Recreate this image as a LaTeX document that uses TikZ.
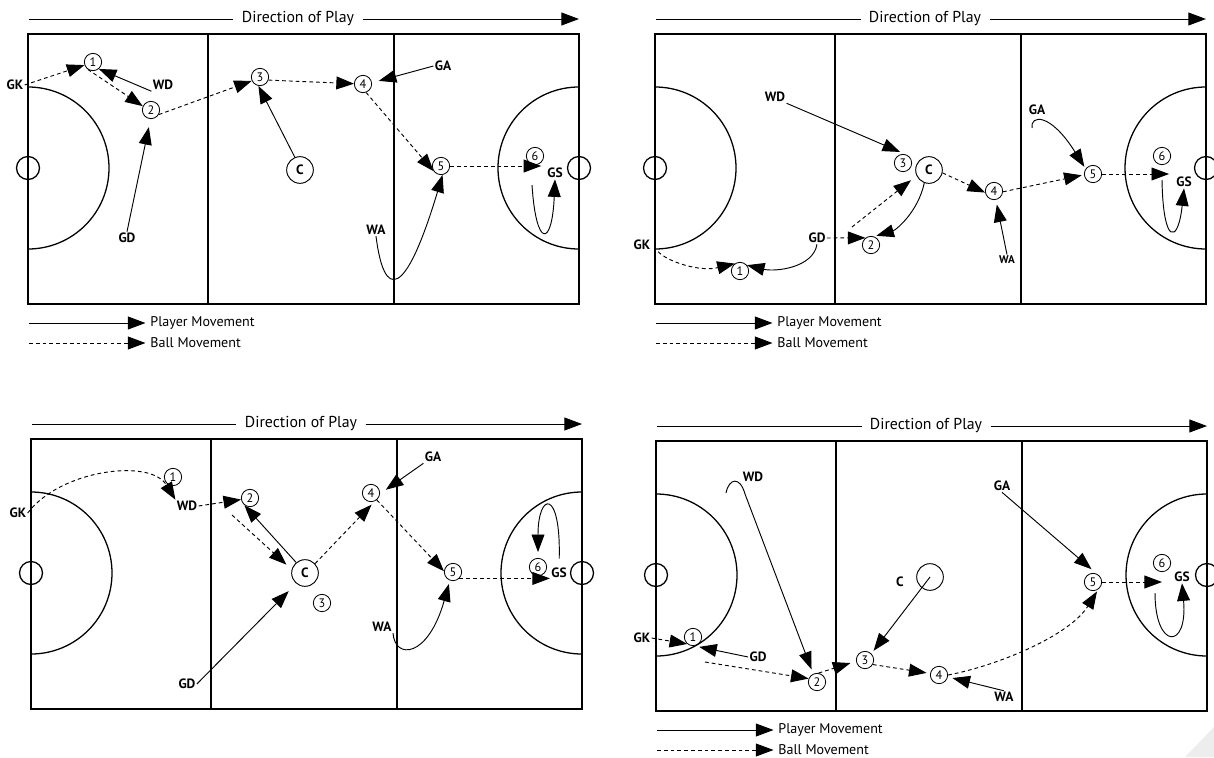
\documentclass[tikz,border=0pt]{standalone}
\usepackage{fontspec}
\setmainfont{PT Sans}
\usetikzlibrary{arrows.meta}

\tikzset{
  feld/.style={line width=1.1pt},
  spieler/.style={line width=0.8pt, -{Triangle[length=15pt,width=11pt]}},
  ball/.style={spieler, dash pattern=on 3.2pt off 2.6pt},
  nummer/.style={circle, draw, line width=0.7pt, inner sep=0pt, minimum size=0.52cm, font=\fontsize{10.5}{11}\selectfont},
  mitte/.style={circle, draw, line width=0.8pt, inner sep=0pt, minimum size=0.8cm, font=\bfseries\fontsize{11.5}{12}\selectfont},
  rolle/.style={inner sep=1pt, font=\bfseries\fontsize{11.5}{12}\selectfont},
  richtung/.style={inner xsep=7pt, font=\fontsize{13.5}{14}\selectfont},
  legende/.style={anchor=west, inner sep=1pt, font=\fontsize{12}{13}\selectfont},
}

\begin{document}
\begin{tikzpicture}[x=0.03cm,y=-0.03cm]
        \useasboundingbox (0,0) rectangle (1214,757);
        \fill[black!7] (1185,757) -- (1214,727) -- (1214,757) -- cycle;

        % Spielfelder
        \foreach \ox/\oy/\i in {28/34/1, 655/34/2, 31/439/3, 656/441/4}
        {
            \draw[feld] (\ox,\oy) rectangle ++(551,270);
            \draw[feld] (\ox+180,\oy) -- ++(0,270);
            \draw[feld] (\ox+366,\oy) -- ++(0,270);
            \draw[feld] (\ox,\oy+53) arc[start angle=-90, end angle=90, radius=81];
            \draw[feld] (\ox+551,\oy+53) arc[start angle=-90, end angle=-270, radius=81];
            \draw[feld] (\ox,\oy+134) circle[radius=11.5];
            \draw[feld] (\ox+551,\oy+134) circle[radius=11.5];
            \node[richtung] (dir\i) at (\ox+270,\oy-15) {Direction of Play};
            \coordinate (dirl\i) at (\ox+1,\oy-15);
            \coordinate (dirr\i) at (\ox+551,\oy-15);
            \draw[line width=0.8pt] (dirl\i) -- (dir\i.west);
            \draw[spieler] (dir\i.east) -- (dirr\i);
        }
        % Legende
        \foreach \ox/\oy/\i in {28/34/1, 655/34/2, 656/441/4}
        {
            \coordinate (lgs\i) at (\ox+1,\oy+289);
            \node[legende] (lgstext\i) at (\ox+121,\oy+289) {Player Movement};
            \draw[spieler, shorten >=3pt] (lgs\i) -- (lgstext\i.west);
            \coordinate (lgb\i) at (\ox+1,\oy+309);
            \node[legende] (lgbtext\i) at (\ox+121,\oy+309) {Ball Movement};
            \draw[ball, shorten >=3pt] (lgb\i) -- (lgbtext\i.west);
        }

        % Feld 1
        \node[rolle] (p1gk) at (15,85) {GK};
        \node[nummer] (p1n1) at (93,62) {1};
        \node[rolle] (p1wd) at (163,85) {WD};
        \node[nummer] (p1n2) at (151,110) {2};
        \node[nummer] (p1n3) at (260,77) {3};
        \node[nummer] (p1n4) at (363,84) {4};
        \node[rolle] (p1ga) at (443,66) {GA};
        \node[mitte] (p1c) at (300,170) {C};
        \node[rolle] (p1gd) at (127,238) {GD};
        \node[nummer] (p1n5) at (441,166) {5};
        \node[nummer] (p1n6) at (535,156) {6};
        \node[rolle] (p1gs) at (555,173) {GS};
        \node[rolle] (p1wa) at (376,230) {WA};
        \coordinate (p1gsa) at (532,185);

        \draw[ball] (p1gk.east) -- (p1n1.200);
        \draw[spieler] (p1wd.south west) -- (p1n1.-50);
        \draw[ball] (p1n1.235) -- (p1n2.155);
        \draw[ball] (p1n2.-30) -- (p1n3.205);
        \draw[spieler] (p1c.112) -- (p1n3.260);
        \draw[ball] (p1n3.-20) -- (p1n4.178);
        \draw[spieler, shorten >=6pt] (p1ga.west) -- (p1n4.8);
        \draw[ball] (p1n4.-70) -- (p1n5.215);
        \draw[spieler, shorten >=7pt] (p1gd.north) -- (p1n2.-93);
        \draw[spieler] (p1wa.south) .. controls (384,300) and (405,300) .. (p1n5.-80);
        \draw[ball, shorten >=4pt] (p1n5.east) -- (p1n5.east -| p1gs.west);
        \draw[spieler] (p1gsa) .. controls (536,248) and (552,248) .. (p1gs.south);

        % Feld 2
        \node[rolle] (p2wd) at (775,97) {WD};
        \node[rolle] (p2gk) at (642,245) {GK};
        \node[nummer] (p2n1) at (740,271) {1};
        \node[rolle] (p2gd) at (817,238) {GD};
        \node[nummer] (p2n2) at (871,245) {2};
        \node[nummer] (p2n3) at (903,163) {3};
        \node[mitte] (p2c) at (929,170) {C};
        \node[nummer] (p2n4) at (994,191) {4};
        \node[rolle, font=\bfseries\fontsize{9.5}{10}\selectfont] (p2wa) at (1007,260) {WA};
        \node[rolle] (p2ga) at (1037,110) {GA};
        \node[nummer] (p2n5) at (1093,174) {5};
        \node[nummer] (p2n6) at (1162,156) {6};
        \node[rolle] (p2gs) at (1184,182) {GS};
        \coordinate (p2pass) at (852,227);
        \coordinate (p2gaa) at (1032,128);
        \coordinate (p2gsa) at (1162,180);

        \draw[spieler, shorten >=5pt] (p2wd.south east) -- (p2n3.74);
        \draw[ball, shorten <=8pt] (p2gk.east) .. controls (668,262) and (700,272) .. (p2n1.125);
        \draw[spieler] (p2gd.south) .. controls (813,268) and (775,272) .. (p2n1.40);
        \draw[ball] (p2gd.east) -- (p2n2.128);
        \draw[ball, shorten >=6pt] (p2pass) -- (p2c.205);
        \draw[spieler, shorten >=2pt] (p2c.250) .. controls (918,212) and (896,230) .. (p2n2.70);
        \draw[ball] (p2c.-12) -- (p2n4.190);
        \draw[spieler, shorten >=4pt] (p2wa.north) -- (p2n4.-78);
        \draw[ball, shorten >=2pt] (p2n4.-5) -- (p2n5.185);
        \draw[spieler, shorten >=2pt] (p2gaa) .. controls (1030,115) and (1050,112) .. (p2n5.145);
        \draw[ball, shorten >=5pt] (p2n5.east) -- (p2n5.east -| p2gs.west);
        \draw[spieler] (p2gsa) .. controls (1163,245) and (1178,245) .. (p2gs.south);

        % Feld 3
        \node[rolle] (p3gk) at (18,513) {GK};
        \node[nummer] (p3n1) at (173,477) {1};
        \node[rolle] (p3wd) at (187,506) {WD};
        \node[nummer] (p3n2) at (250,498) {2};
        \node[mitte] (p3c) at (305,573) {C};
        \node[nummer] (p3n3) at (322,603) {3};
        \node[rolle] (p3gd) at (187,684) {GD};
        \node[nummer] (p3n4) at (371,493) {4};
        \node[rolle] (p3ga) at (433,457) {GA};
        \node[nummer] (p3n5) at (453,572) {5};
        \node[rolle] (p3wa) at (382,627) {WA};
        \node[nummer] (p3n6) at (538,567) {6};
        \node[rolle] (p3gs) at (559,573) {GS};
        \coordinate (p3pass) at (232,515);

        \draw[ball] (p3gk.east) .. controls (60,470) and (150,458) .. (p3wd.north west);
        \draw[ball] (p3wd.east) -- (p3n2.190);
        \draw[spieler, shorten >=1pt] (p3c.130) -- (p3n2.225);
        \draw[ball, shorten >=6pt] (p3pass) -- (p3c.165);
        \draw[spieler, shorten >=9pt] (p3gd.east) -- (p3c.230);
        \draw[ball, shorten >=4pt] (p3c.43) -- (p3n4.-65);
        \draw[spieler, shorten >=6pt] (p3ga.south west) -- (p3n4.-5);
        \draw[ball] (p3n4.-50) -- (p3n5.175);
        \draw[spieler, shorten >=3pt] (p3wa.south east) .. controls (395,660) and (428,658) .. (p3n5.250);
        \draw[ball] (p3n5.south east) -- (p3n5.south east -| p3gs.west);
        \draw[spieler, shorten <=7pt, shorten >=5pt] (p3gs.north) .. controls (561,488) and (538,492) .. (p3n6.north);

        % Feld 4
        \node[rolle] (p4wd) at (753,477) {WD};
        \node[rolle] (p4ga) at (1002,486) {GA};
        \node[rolle] (p4c) at (900,582) {C};
        \node[mitte] (p4cr) at (930,577) {};
        \node[rolle] (p4gk) at (642,638) {GK};
        \node[nummer] (p4n1) at (693,637) {1};
        \node[rolle] (p4gd) at (758,657) {GD};
        \node[nummer] (p4n2) at (817,682) {2};
        \node[nummer] (p4n3) at (865,660) {3};
        \node[nummer] (p4n4) at (939,675) {4};
        \node[rolle] (p4wa) at (1004,697) {WA};
        \node[nummer] (p4n5) at (1093,582) {5};
        \node[nummer] (p4n6) at (1162,563) {6};
        \node[rolle] (p4gs) at (1182,577) {GS};
        \coordinate (p4pass) at (705,662);
        \coordinate (p4wda) at (726,493);
        \coordinate (p4gsa) at (1155,593);

        \draw[ball] (p4gk.east) -- (p4n1.230);
        \draw[spieler, shorten >=4pt] (p4gd.west) -- (p4n1.-80);
        \draw[ball] (p4pass) -- (p4n2.158);
        \draw[spieler, shorten >=4pt] (p4wda) .. controls (729,478) and (740,476) .. (745,494) -- (p4n2.115);
        \draw[ball, shorten >=5pt] (p4n2.80) -- (p4n3.188);
        \draw[spieler, shorten >=3pt] (p4cr.center) -- (p4n3.45);
        \draw[ball, shorten >=3pt] (p4n3.-30) -- (p4n4.170);
        \draw[spieler, shorten >=4pt] (p4wa.north) -- (p4n4.-12);
        \draw[ball, shorten >=2pt] (p4n4.east) .. controls (1000,665) and (1070,635) .. (p4n5.-55);
        \draw[spieler, shorten >=6pt] (p4ga.south) -- (p4n5.65);
        \draw[ball] (p4n5.east) -- (p4n5.east -| p4n6.south);
        \draw[spieler] (p4gsa) .. controls (1155,650) and (1188,650) .. (p4gs.south);
\end{tikzpicture}
\end{document}
